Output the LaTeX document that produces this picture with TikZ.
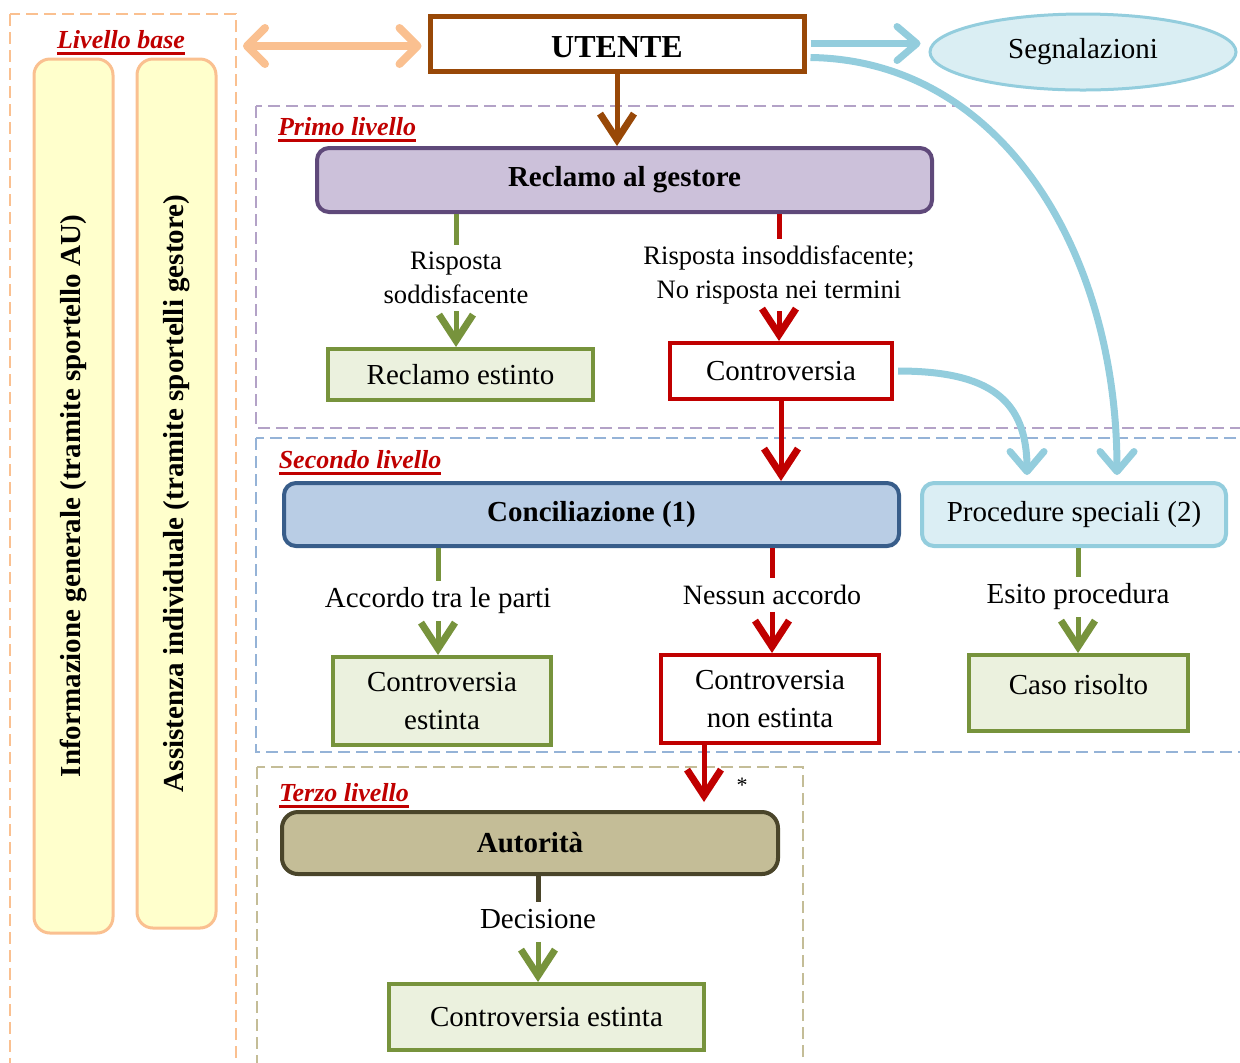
\documentclass[tikz,border=0pt]{standalone}
\usepackage{fontspec}
\setmainfont{Liberation Serif}
\usetikzlibrary{arrows.meta,calc,shapes.geometric}

\definecolor{peach}{HTML}{FAC090}
\definecolor{barfill}{HTML}{FFFFCC}
\definecolor{userbrown}{HTML}{984807}
\definecolor{lineblue}{HTML}{93CDDD}
\definecolor{segfill}{HTML}{DAEEF3}
\definecolor{purpleframe}{HTML}{B3A2C7}
\definecolor{purplefill}{HTML}{CCC1DA}
\definecolor{purpleline}{HTML}{5F497A}
\definecolor{okgreen}{HTML}{77933C}
\definecolor{okfill}{HTML}{EBF1DE}
\definecolor{kored}{HTML}{C00000}
\definecolor{blueframe}{HTML}{95B3D7}
\definecolor{concilfill}{HTML}{B9CDE5}
\definecolor{concilline}{HTML}{385D8A}
\definecolor{procfill}{HTML}{DBEEF4}
\definecolor{tanfill}{HTML}{C4BD97}
\definecolor{tanline}{HTML}{4A452A}

\newcommand{\bodyfont}{\fontsize{14.5}{17}\selectfont}
\newcommand{\twolinefont}{\fontsize{14.5}{19}\selectfont}
\newcommand{\smalllabelfont}{\fontsize{13.3}{17}\selectfont}
% thick underline for the level titles
\newsavebox{\lvlbox}
\newcommand{\lvlul}[1]{\sbox{\lvlbox}{#1}\rlap{\raisebox{-3.2pt}{\rule{\wd\lvlbox}{1.5pt}}}\usebox{\lvlbox}}

\tikzset{
  frame/.style={dash pattern=on 6pt off 3pt, line width=1pt},
  lvltitle/.style={text=kored, font=\fontsize{13}{15}\selectfont\bfseries\itshape},
  box/.style={draw, line width=2pt, align=center, inner sep=2pt},
  bar/.style={draw=peach, fill=barfill, line width=1.5pt, rounded corners=8pt, rotate=90,
    minimum height=39.5pt, font=\bodyfont\bfseries},
  link/.style={line width=2.5pt, -{Straight Barb[length=13pt,width=17pt,line width=3.5pt]}},
  stub/.style={line width=2.5pt},
  bluelink/.style={lineblue, line width=3.5pt, -{Straight Barb[length=10pt,width=17pt,line width=3.5pt,round]}},
}

\begin{document}
\begin{tikzpicture}[x=0.5pt, y=-0.5pt, font=\bodyfont]
  \useasboundingbox (0,0) rectangle (1240,1062);

  % Level frames
  \draw[frame, peach] (10,14) rectangle (236,1080);
  \draw[frame, purpleframe] (256,106) rectangle (1260,428);
  \draw[frame, blueframe] (256,438) rectangle (1260,752);
  \draw[frame, tanfill] (257,767) rectangle (803,1080);

  % Level titles
  \node[lvltitle] (lbase) at (121,43) {\lvlul{Livello base}};
  \node[lvltitle] (lprimo) at (347,130) {\lvlul{Primo livello}};
  \node[lvltitle] (lsecondo) at (360,463) {\lvlul{Secondo livello}};
  \node[lvltitle] (lterzo) at (344,796) {\lvlul{Terzo livello}};

  % Base level
  \node[bar, minimum width=437pt] (info) at (73.5,496) {Informazione generale (tramite sportello AU)};
  \node[bar, minimum width=434.5pt] (assist) at (176.5,493.5) {Assistenza individuale (tramite sportelli gestore)};
  \coordinate (basecon) at (243,46);

  % User and reports
  \node[box, draw=userbrown, line width=2.5pt, minimum width=187pt, minimum height=27.5pt,
    text height=14pt, text depth=0pt, font=\fontsize{16}{19}\selectfont\bfseries] (utente) at (617,43.5) {UTENTE};
  \node[ellipse, draw=lineblue, fill=segfill, line width=1.5pt, minimum width=153pt,
    minimum height=38pt, inner sep=0pt] (segn) at (1083,52) {Segnalazioni};

  % First level
  \node[box, draw=purpleline, fill=purplefill, rounded corners=6pt, minimum width=307.5pt,
    minimum height=32pt, font=\bodyfont\bfseries] (reclamo) at (624.5,180) {Reclamo al gestore};
  \node[align=center, font=\smalllabelfont] (rsodd) at (456,278) {Risposta\\soddisfacente};
  \node[align=center, font=\smalllabelfont] (rinsod) at (779,275) {Risposta insoddisfacente;\\No risposta nei termini};
  \node[box, draw=okgreen, fill=okfill, minimum width=132.5pt, minimum height=25.5pt] (estinto1) at (460.5,374.5) {Reclamo estinto};
  \node[box, draw=kored, fill=white, minimum width=111pt, minimum height=28pt] (contr) at (781,371) {Controversia};

  % Second level
  \node[box, draw=concilline, fill=concilfill, rounded corners=6pt, minimum width=307.5pt,
    minimum height=31.5pt, font=\bodyfont\bfseries] (concil) at (591.5,514.5) {Conciliazione (1)};
  \node[box, draw=lineblue, fill=procfill, rounded corners=6pt, minimum width=152pt,
    minimum height=31.5pt] (proc) at (1074,514.5) {Procedure speciali (2)};
  \node (accordo) at (438,601) {Accordo tra le parti};
  \node[font=\fontsize{14}{17}\selectfont] (nessun) at (772,595) {Nessun accordo};
  \node (esito) at (1078,597) {Esito procedura};
  \node[box, draw=okgreen, fill=okfill, minimum width=109pt, minimum height=44pt,
    font=\twolinefont] (estinto2) at (442,701) {Controversia\\estinta};
  \node[box, draw=kored, fill=white, minimum width=109pt, minimum height=44pt,
    font=\twolinefont] (nonest) at (770,699) {Controversia\\non estinta};
  \node[box, draw=okgreen, fill=okfill, minimum width=109.5pt, minimum height=38pt,
    text depth=9pt] (caso) at (1078.5,693) {Caso risolto};

  % Third level
  \node[font=\fontsize{11}{13}\selectfont] (star) at (742,785) {*};
  \node[box, draw=tanline, fill=tanfill, rounded corners=8pt, minimum width=248pt,
    minimum height=31pt, font=\bodyfont\bfseries] (autor) at (530,843) {Autorità};
  \node (decis) at (538,919) {Decisione};
  \node[box, draw=okgreen, fill=okfill, minimum width=157.5pt, minimum height=33pt] (estinto3) at (546.5,1017) {Controversia estinta};

  % Connectors
  \draw[peach, line width=4pt, shorten >=3pt,
    {Straight Barb[length=9pt,width=18pt,line width=4pt,round]}-{Straight Barb[length=9pt,width=18pt,line width=4pt,round]}]
    (basecon) -- (basecon -| utente.west);
  \draw[bluelink, shorten <=2pt, shorten >=4pt] (utente.east) -- (utente.east -| segn.west);
  \draw[bluelink, shorten >=3pt] ($(utente.east)+(4,14)$) .. controls (1000,60) and (1117,250) .. ([xshift=21.5pt]proc.north);
  \draw[bluelink, shorten <=2pt, shorten >=3pt] (contr.east) .. controls (990,371) and (1027,400) .. ([xshift=-23.5pt]proc.north);
  \draw[link, userbrown] (utente.south) -- (utente.south |- reclamo.north);

  \draw[stub, okgreen] (reclamo.south -| rsodd) -- (rsodd.north);
  \draw[link, okgreen] (rsodd.south) -- (rsodd.south |- estinto1.north);
  \draw[stub, kored] (reclamo.south -| rinsod) -- (rinsod.north);
  \draw[link, kored] (rinsod.south) -- (rinsod.south |- contr.north);
  \draw[link, kored] (contr.south) -- (contr.south |- concil.north);

  \draw[stub, okgreen] (concil.south -| accordo) -- (accordo.north);
  \draw[link, okgreen] (accordo.south) -- (accordo.south |- estinto2.north);
  \draw[stub, kored] (concil.south -| nessun) -- (nessun.north);
  \draw[link, kored] (nessun.south) -- (nessun.south |- nonest.north);
  \draw[stub, okgreen] (proc.south -| esito) -- (esito.north);
  \draw[link, okgreen] (esito.south) -- (esito.south |- caso.north);

  \draw[link, kored, shorten >=4pt] ([xshift=-33pt]nonest.south) -- ([xshift=-33pt]nonest.south |- autor.north);
  \draw[stub, tanline] (autor.south -| decis) -- (decis.north);
  \draw[link, okgreen, shorten <=3pt] (decis.south) -- (decis.south |- estinto3.north);
\end{tikzpicture}
\end{document}
